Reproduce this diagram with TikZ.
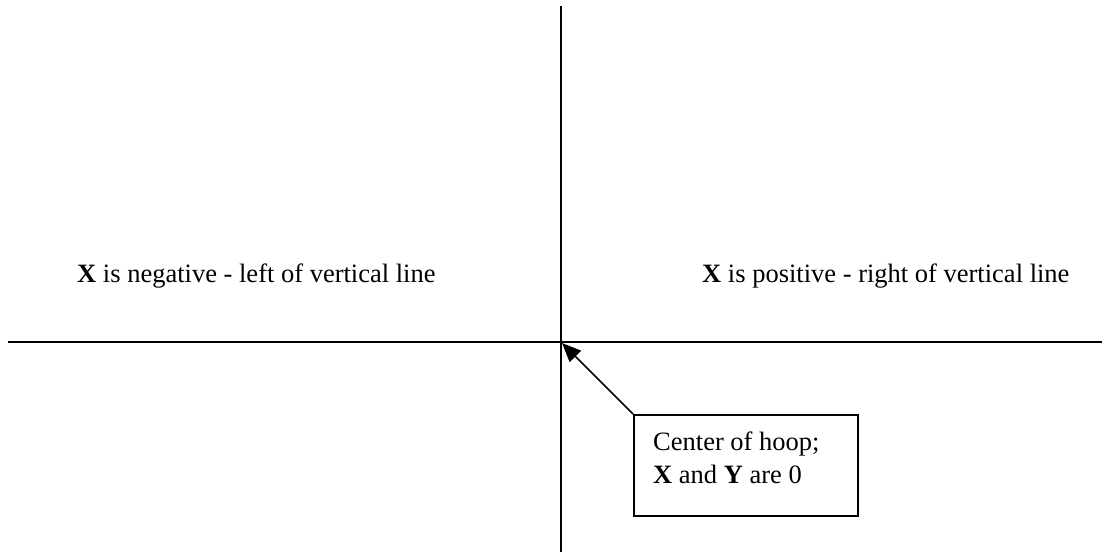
\documentclass[tikz,border=0pt]{standalone}
\usepackage{fontspec}
\setmainfont{Liberation Serif}
\usetikzlibrary{arrows.meta}
\begin{document}
\begin{tikzpicture}[x=1pt,y=-1pt,
  axis/.style={line width=2pt},
  lbl/.style={font=\fontsize{26.5}{33}\selectfont, inner sep=0pt, anchor=base west},
  callout/.style={draw, line width=1.5pt},
  pointer/.style={line width=1.5pt, -{Triangle[length=19pt,width=16pt]}}]
\useasboundingbox (0,0) rectangle (1102,554);
\coordinate (vtop) at (561,6);
\coordinate (vbot) at (561,552);
\coordinate (hl) at (8,342);
\coordinate (hr) at (1102,342);
\coordinate (origin) at (562,343);
\draw[axis] (vtop) -- (vbot);
\draw[axis] (hl) -- (hr);
\node[lbl] (neg) at (77,282) {\textbf{X} is negative - left of vertical line};
\node[lbl] (pos) at (702,282) {\textbf{X} is positive - right of vertical line};
\node[callout, minimum width=224pt, minimum height=101pt, anchor=north west, inner sep=0pt] (box) at (633,414) {};
\node[lbl] (l1) at (653,450) {Center of hoop;};
\node[lbl] (l2) at (653,483) {\textbf{X} and \textbf{Y} are 0};
\draw[pointer] (box.north west) -- (origin);
\end{tikzpicture}
\end{document}
